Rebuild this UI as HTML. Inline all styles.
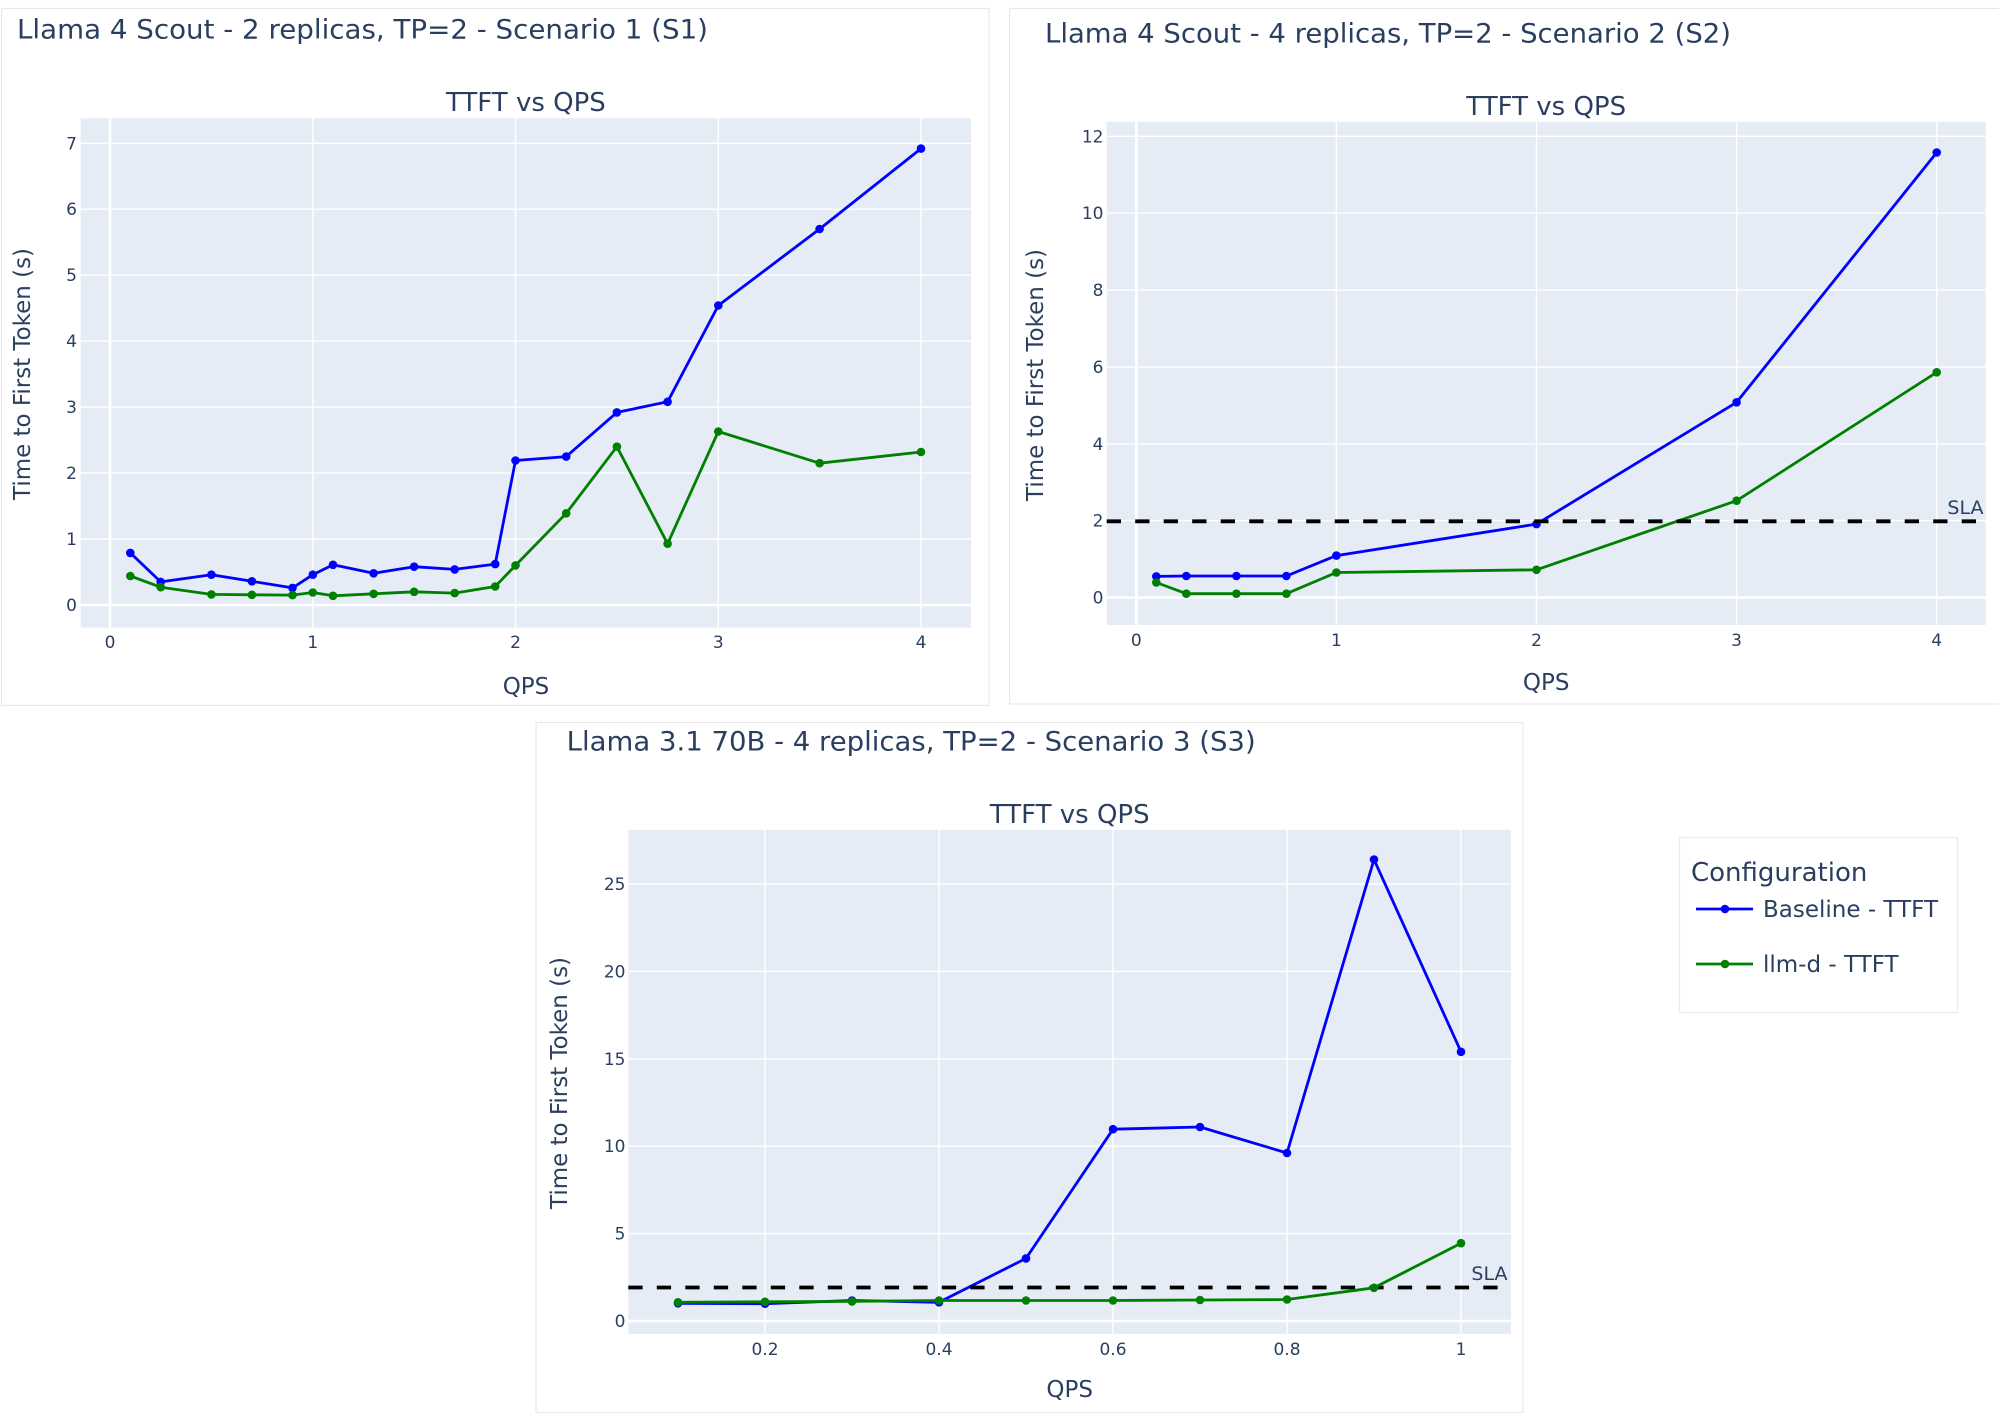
<!DOCTYPE html>
<html>
<head>
<meta charset="utf-8">
<style>
html,body{margin:0;padding:0;background:#fff;}
svg{display:block;}
text{font-family:"DejaVu Sans","Liberation Sans",sans-serif;fill:#2a3f5f;}
.tk{font-size:17px;}
.ax{font-size:23px;}
.st{font-size:26px;}
.tt{font-size:27px;}
.grid{stroke:#fff;stroke-width:1.4;}
.zero{stroke:#fff;stroke-width:2.6;}
.bl{fill:none;stroke:#0000ff;stroke-width:2.8;stroke-linejoin:round;}
.gr{fill:none;stroke:#008000;stroke-width:2.8;stroke-linejoin:round;}
.sla{stroke:#000;stroke-width:3.8;stroke-dasharray:14.3,14.2;}
</style>
</head>
<body>
<svg width="1999" height="1415" viewBox="0 0 1999 1415" xmlns="http://www.w3.org/2000/svg">
<rect x="0" y="0" width="1999" height="1415" fill="#fff"/>

<!-- Cards -->
<rect x="1.5" y="8.5" width="987.5" height="697" fill="#fff" stroke="#e8e8e8" stroke-width="1.2"/>
<rect x="1009.5" y="8.5" width="995" height="695.5" fill="#fff" stroke="#e8e8e8" stroke-width="1.2"/>
<rect x="536" y="722.5" width="987" height="690" fill="#fff" stroke="#e8e8e8" stroke-width="1.2"/>
<rect x="1679.5" y="837.5" width="278" height="175" fill="#fff" stroke="#ececec" stroke-width="1.2"/>

<!-- ================= PANEL 1 ================= -->
<text class="tt" x="17" y="38.3" textLength="691" lengthAdjust="spacingAndGlyphs">Llama 4 Scout - 2 replicas, TP=2 - Scenario 1 (S1)</text>
<text class="st" x="525.9" y="111" text-anchor="middle">TTFT vs QPS</text>
<rect x="80.7" y="118.3" width="890.3" height="509.4" fill="#e5ecf6"/>
<g>
<line class="grid" x1="312.75" y1="118.3" x2="312.75" y2="627.7"/>
<line class="grid" x1="515.5" y1="118.3" x2="515.5" y2="627.7"/>
<line class="grid" x1="718.25" y1="118.3" x2="718.25" y2="627.7"/>
<line class="grid" x1="921" y1="118.3" x2="921" y2="627.7"/>
<line class="grid" x1="80.7" y1="539" x2="971" y2="539"/>
<line class="grid" x1="80.7" y1="473.1" x2="971" y2="473.1"/>
<line class="grid" x1="80.7" y1="407.1" x2="971" y2="407.1"/>
<line class="grid" x1="80.7" y1="341.2" x2="971" y2="341.2"/>
<line class="grid" x1="80.7" y1="275.2" x2="971" y2="275.2"/>
<line class="grid" x1="80.7" y1="209.2" x2="971" y2="209.2"/>
<line class="grid" x1="80.7" y1="143.3" x2="971" y2="143.3"/>
<line class="zero" x1="110" y1="118.3" x2="110" y2="627.7"/>
<line class="zero" x1="80.7" y1="605" x2="971" y2="605"/>
</g>
<g class="tk" text-anchor="end">
<text class="tk" x="77" y="611">0</text>
<text class="tk" x="77" y="545">1</text>
<text class="tk" x="77" y="479.1">2</text>
<text class="tk" x="77" y="413.1">3</text>
<text class="tk" x="77" y="347.2">4</text>
<text class="tk" x="77" y="281.2">5</text>
<text class="tk" x="77" y="215.2">6</text>
<text class="tk" x="77" y="149.3">7</text>
</g>
<g text-anchor="middle">
<text class="tk" x="110" y="648">0</text>
<text class="tk" x="312.75" y="648">1</text>
<text class="tk" x="515.5" y="648">2</text>
<text class="tk" x="718.25" y="648">3</text>
<text class="tk" x="921" y="648">4</text>
</g>
<text class="ax" x="526" y="694" text-anchor="middle">QPS</text>
<text class="ax" transform="translate(30,374) rotate(-90)" text-anchor="middle" textLength="252" lengthAdjust="spacingAndGlyphs">Time to First Token (s)</text>

<polyline class="bl" points="130.3,552.9 160.7,581.9 211.4,574.7 251.9,581.3 292.5,587.9 312.8,574.7 333,564.8 373.6,573.3 414.1,566.7 454.7,569.4 495.2,564.1 515.5,460.5 566.2,456.6 616.9,412.4 667.6,401.8 718.3,305.5 819.6,229 921,148.6"/>
<g fill="#0000ff">
<circle cx="130.3" cy="552.9" r="4.3"/><circle cx="160.7" cy="581.9" r="4.3"/><circle cx="211.4" cy="574.7" r="4.3"/><circle cx="251.9" cy="581.3" r="4.3"/><circle cx="292.5" cy="587.9" r="4.3"/><circle cx="312.8" cy="574.7" r="4.3"/><circle cx="333" cy="564.8" r="4.3"/><circle cx="373.6" cy="573.3" r="4.3"/><circle cx="414.1" cy="566.7" r="4.3"/><circle cx="454.7" cy="569.4" r="4.3"/><circle cx="495.2" cy="564.1" r="4.3"/><circle cx="515.5" cy="460.5" r="4.3"/><circle cx="566.2" cy="456.6" r="4.3"/><circle cx="616.9" cy="412.4" r="4.3"/><circle cx="667.6" cy="401.8" r="4.3"/><circle cx="718.3" cy="305.5" r="4.3"/><circle cx="819.6" cy="229" r="4.3"/><circle cx="921" cy="148.6" r="4.3"/>
</g>
<polyline class="gr" points="130.3,576 160.7,587.2 211.4,594.4 251.9,594.8 292.5,595.1 312.8,592.5 333,595.8 373.6,593.8 414.1,591.8 454.7,593.1 495.2,586.5 515.5,565.4 566.2,513.3 616.9,446.7 667.6,543.7 718.3,431.5 819.6,463.2 921,452"/>
<g fill="#008000">
<circle cx="130.3" cy="576" r="4.3"/><circle cx="160.7" cy="587.2" r="4.3"/><circle cx="211.4" cy="594.4" r="4.3"/><circle cx="251.9" cy="594.8" r="4.3"/><circle cx="292.5" cy="595.1" r="4.3"/><circle cx="312.8" cy="592.5" r="4.3"/><circle cx="333" cy="595.8" r="4.3"/><circle cx="373.6" cy="593.8" r="4.3"/><circle cx="414.1" cy="591.8" r="4.3"/><circle cx="454.7" cy="593.1" r="4.3"/><circle cx="495.2" cy="586.5" r="4.3"/><circle cx="515.5" cy="565.4" r="4.3"/><circle cx="566.2" cy="513.3" r="4.3"/><circle cx="616.9" cy="446.7" r="4.3"/><circle cx="667.6" cy="543.7" r="4.3"/><circle cx="718.3" cy="431.5" r="4.3"/><circle cx="819.6" cy="463.2" r="4.3"/><circle cx="921" cy="452" r="4.3"/>
</g>

<!-- ================= PANEL 2 ================= -->
<text class="tt" x="1045" y="42.7" textLength="686" lengthAdjust="spacingAndGlyphs">Llama 4 Scout - 4 replicas, TP=2 - Scenario 2 (S2)</text>
<text class="st" x="1546.2" y="115" text-anchor="middle">TTFT vs QPS</text>
<rect x="1106.7" y="121.7" width="879" height="503.3" fill="#e5ecf6"/>
<g>
<line class="grid" x1="1336.4" y1="121.7" x2="1336.4" y2="625"/>
<line class="grid" x1="1536.5" y1="121.7" x2="1536.5" y2="625"/>
<line class="grid" x1="1736.6" y1="121.7" x2="1736.6" y2="625"/>
<line class="grid" x1="1936.7" y1="121.7" x2="1936.7" y2="625"/>
<line class="grid" x1="1106.7" y1="520.6" x2="1985.7" y2="520.6"/>
<line class="grid" x1="1106.7" y1="443.8" x2="1985.7" y2="443.8"/>
<line class="grid" x1="1106.7" y1="366.9" x2="1985.7" y2="366.9"/>
<line class="grid" x1="1106.7" y1="290.1" x2="1985.7" y2="290.1"/>
<line class="grid" x1="1106.7" y1="213.2" x2="1985.7" y2="213.2"/>
<line class="grid" x1="1106.7" y1="136.3" x2="1985.7" y2="136.3"/>
<line class="zero" x1="1136.3" y1="121.7" x2="1136.3" y2="625"/>
<line class="zero" x1="1106.7" y1="597.5" x2="1985.7" y2="597.5"/>
</g>
<g text-anchor="end">
<text class="tk" x="1103.5" y="603.5">0</text>
<text class="tk" x="1103.5" y="526.6">2</text>
<text class="tk" x="1103.5" y="449.8">4</text>
<text class="tk" x="1103.5" y="372.9">6</text>
<text class="tk" x="1103.5" y="296.1">8</text>
<text class="tk" x="1103.5" y="219.2">10</text>
<text class="tk" x="1103.5" y="142.3">12</text>
</g>
<g text-anchor="middle">
<text class="tk" x="1136.3" y="646">0</text>
<text class="tk" x="1336.4" y="646">1</text>
<text class="tk" x="1536.5" y="646">2</text>
<text class="tk" x="1736.6" y="646">3</text>
<text class="tk" x="1936.7" y="646">4</text>
</g>
<text class="ax" x="1546.2" y="690" text-anchor="middle">QPS</text>
<text class="ax" transform="translate(1043,375) rotate(-90)" text-anchor="middle" textLength="252" lengthAdjust="spacingAndGlyphs">Time to First Token (s)</text>

<polyline class="bl" points="1156.3,576.4 1186.3,576 1236.4,576 1286.4,576 1336.4,555.6 1536.5,524.1 1736.6,402.3 1936.7,152.5"/>
<g fill="#0000ff">
<circle cx="1156.3" cy="576.4" r="4.3"/><circle cx="1186.3" cy="576" r="4.3"/><circle cx="1236.4" cy="576" r="4.3"/><circle cx="1286.4" cy="576" r="4.3"/><circle cx="1336.4" cy="555.6" r="4.3"/><circle cx="1536.5" cy="524.1" r="4.3"/><circle cx="1736.6" cy="402.3" r="4.3"/><circle cx="1936.7" cy="152.5" r="4.3"/>
</g>
<polyline class="gr" points="1156.3,582.5 1186.3,593.7 1236.4,593.7 1286.4,593.7 1336.4,572.5 1536.5,569.8 1736.6,500.7 1936.7,372.3"/>
<g fill="#008000">
<circle cx="1156.3" cy="582.5" r="4.3"/><circle cx="1186.3" cy="593.7" r="4.3"/><circle cx="1236.4" cy="593.7" r="4.3"/><circle cx="1286.4" cy="593.7" r="4.3"/><circle cx="1336.4" cy="572.5" r="4.3"/><circle cx="1536.5" cy="569.8" r="4.3"/><circle cx="1736.6" cy="500.7" r="4.3"/><circle cx="1936.7" cy="372.3" r="4.3"/>
</g>
<line class="sla" x1="1106.7" y1="521.3" x2="1985.7" y2="521.3"/>
<text x="1983.5" y="514" text-anchor="end" style="font-size:19px">SLA</text>

<!-- ================= PANEL 3 ================= -->
<text class="tt" x="566.7" y="750.7" textLength="689" lengthAdjust="spacingAndGlyphs">Llama 3.1 70B - 4 replicas, TP=2 - Scenario 3 (S3)</text>
<text class="st" x="1069.7" y="823" text-anchor="middle">TTFT vs QPS</text>
<rect x="628.3" y="830" width="882.7" height="504" fill="#e5ecf6"/>
<g>
<line class="grid" x1="765" y1="830" x2="765" y2="1334"/>
<line class="grid" x1="939" y1="830" x2="939" y2="1334"/>
<line class="grid" x1="1113" y1="830" x2="1113" y2="1334"/>
<line class="grid" x1="1287" y1="830" x2="1287" y2="1334"/>
<line class="grid" x1="1461" y1="830" x2="1461" y2="1334"/>
<line class="grid" x1="628.3" y1="1233.6" x2="1511" y2="1233.6"/>
<line class="grid" x1="628.3" y1="1146.2" x2="1511" y2="1146.2"/>
<line class="grid" x1="628.3" y1="1058.8" x2="1511" y2="1058.8"/>
<line class="grid" x1="628.3" y1="971.4" x2="1511" y2="971.4"/>
<line class="grid" x1="628.3" y1="884" x2="1511" y2="884"/>
<line class="zero" x1="628.3" y1="1321" x2="1511" y2="1321"/>
</g>
<g text-anchor="end">
<text class="tk" x="625.5" y="1327">0</text>
<text class="tk" x="625.5" y="1239.6">5</text>
<text class="tk" x="625.5" y="1152.2">10</text>
<text class="tk" x="625.5" y="1064.8">15</text>
<text class="tk" x="625.5" y="977.4">20</text>
<text class="tk" x="625.5" y="890">25</text>
</g>
<g text-anchor="middle">
<text class="tk" x="765" y="1355">0.2</text>
<text class="tk" x="939" y="1355">0.4</text>
<text class="tk" x="1113" y="1355">0.6</text>
<text class="tk" x="1287" y="1355">0.8</text>
<text class="tk" x="1461" y="1355">1</text>
</g>
<text class="ax" x="1069.7" y="1397" text-anchor="middle">QPS</text>
<text class="ax" transform="translate(567,1083) rotate(-90)" text-anchor="middle" textLength="252" lengthAdjust="spacingAndGlyphs">Time to First Token (s)</text>

<polyline class="bl" points="678,1303.3 765,1303.7 852,1300.5 939,1302.3 1026,1258.4 1113,1129.2 1200,1127 1287,1153 1374,859.5 1461,1051.8"/>
<g fill="#0000ff">
<circle cx="678" cy="1303.3" r="4.3"/><circle cx="765" cy="1303.7" r="4.3"/><circle cx="852" cy="1300.5" r="4.3"/><circle cx="939" cy="1302.3" r="4.3"/><circle cx="1026" cy="1258.4" r="4.3"/><circle cx="1113" cy="1129.2" r="4.3"/><circle cx="1200" cy="1127" r="4.3"/><circle cx="1287" cy="1153" r="4.3"/><circle cx="1374" cy="859.5" r="4.3"/><circle cx="1461" cy="1051.8" r="4.3"/>
</g>
<line class="sla" x1="628.3" y1="1287.5" x2="1511" y2="1287.5"/>
<polyline class="gr" points="678,1302.3 765,1301.8 852,1301.4 939,1300.5 1026,1300.5 1113,1300.5 1200,1300 1287,1299.5 1374,1287.8 1461,1243.2"/>
<g fill="#008000">
<circle cx="678" cy="1302.3" r="4.3"/><circle cx="765" cy="1301.8" r="4.3"/><circle cx="852" cy="1301.4" r="4.3"/><circle cx="939" cy="1300.5" r="4.3"/><circle cx="1026" cy="1300.5" r="4.3"/><circle cx="1113" cy="1300.5" r="4.3"/><circle cx="1200" cy="1300" r="4.3"/><circle cx="1287" cy="1299.5" r="4.3"/><circle cx="1374" cy="1287.8" r="4.3"/><circle cx="1461" cy="1243.2" r="4.3"/>
</g>
<text x="1507.5" y="1280" text-anchor="end" style="font-size:19px">SLA</text>

<!-- ================= LEGEND ================= -->
<text x="1691" y="881" style="font-size:26px">Configuration</text>
<line x1="1696" y1="909" x2="1753" y2="909" stroke="#0000ff" stroke-width="2.8"/>
<circle cx="1725" cy="909" r="4.3" fill="#0000ff"/>
<text x="1763" y="917" style="font-size:23px">Baseline - TTFT</text>
<line x1="1696" y1="964" x2="1753" y2="964" stroke="#008000" stroke-width="2.8"/>
<circle cx="1725" cy="964" r="4.3" fill="#008000"/>
<text x="1763" y="972" style="font-size:23px">llm-d - TTFT</text>
</svg>
</body>
</html>
